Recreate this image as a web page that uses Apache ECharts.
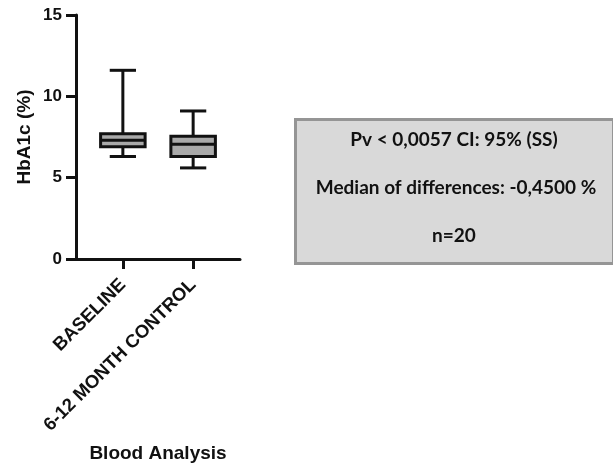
<!DOCTYPE html>
<html>
<head>
<meta charset="utf-8">
<script src="https://cdn.jsdelivr.net/npm/echarts@6/dist/echarts.min.js"></script>
<style>
  html, body { margin: 0; padding: 0; background: #fff; }
  #chart { width: 613px; height: 468px; }
</style>
</head>
<body>
<div id="chart"></div>
<script>
// categories and their slot on the x scale (0..7)
var categories = ['BASELINE', '6-12 MONTH CONTROL'];
var slots = [2, 5];

// box plot values (HbA1c %)
var mins    = [6.3, 5.6];
var q1s     = [6.9, 6.3];
var medians = [7.3, 7.05];
var q3s     = [7.7, 7.55];
var maxs    = [11.6, 9.1];

var yTicks = [0, 5, 10, 15];

var statLines = [
    'Pv < 0,0057 CI: 95% (SS)',
    'Median of differences: -0,4500 %',
    'n=20'
];

var boxData = [];
for (var i = 0; i < categories.length; i++) {
    boxData.push([slots[i], mins[i], q1s[i], medians[i], q3s[i], maxs[i]]);
}

function renderBox(params, api) {
    var x = api.value(0);
    var pMin = api.coord([x, api.value(1)]);
    var pQ1 = api.coord([x, api.value(2)]);
    var pMed = api.coord([x, api.value(3)]);
    var pQ3 = api.coord([x, api.value(4)]);
    var pMax = api.coord([x, api.value(5)]);
    var unit = api.size([1, 0])[0];
    var boxW = unit * 1.9;
    var capW = unit * 1.12;
    var cx = pMed[0];
    var lineStyle = {stroke: '#111', lineWidth: 3};
    return {
        type: 'group',
        children: [
            {type: 'line', shape: {x1: cx, y1: pMax[1], x2: cx, y2: pQ3[1]}, style: lineStyle},
            {type: 'line', shape: {x1: cx, y1: pQ1[1], x2: cx, y2: pMin[1]}, style: lineStyle},
            {type: 'line', shape: {x1: cx - capW / 2, y1: pMax[1], x2: cx + capW / 2, y2: pMax[1]}, style: lineStyle},
            {type: 'line', shape: {x1: cx - capW / 2, y1: pMin[1], x2: cx + capW / 2, y2: pMin[1]}, style: lineStyle},
            {type: 'rect', shape: {x: cx - boxW / 2, y: pQ3[1], width: boxW, height: pQ1[1] - pQ3[1]},
                style: {fill: '#a9a9a9', stroke: '#111', lineWidth: 3}},
            {type: 'line', shape: {x1: cx - boxW / 2, y1: pMed[1], x2: cx + boxW / 2, y2: pMed[1]}, style: lineStyle}
        ]
    };
}

var textFont = 'Liberation Sans, Arial, sans-serif';
var statFont = 'bold 19px Lato, sans-serif';
var myChart = echarts.init(document.getElementById('chart'), null, {renderer: 'canvas'});
var option = {
    animation: false,
    backgroundColor: '#fff',
    grid: {left: 76, top: 15, width: 164, bottom: 207, containLabel: false},
    xAxis: {
        type: 'value',
        min: 0,
        max: 7,
        name: 'Blood Analysis',
        nameLocation: 'middle',
        nameGap: 185,
        nameTextStyle: {fontFamily: textFont, fontWeight: 'bold', fontSize: 19, color: '#111'},
        splitLine: {show: false},
        axisLine: {onZero: false, lineStyle: {color: '#111', width: 3}},
        axisTick: {show: true, length: 10, customValues: slots, lineStyle: {color: '#111', width: 3}},
        axisLabel: {
            customValues: slots,
            rotate: 45,
            margin: 23,
            fontFamily: textFont,
            fontWeight: 'bold',
            fontSize: 18.5,
            color: '#111',
            formatter: function (v) {
                var idx = slots.indexOf(v);
                return idx >= 0 ? categories[idx] : '';
            }
        }
    },
    yAxis: {
        type: 'value',
        min: yTicks[0],
        max: yTicks[yTicks.length - 1],
        interval: 5,
        name: 'HbA1c (%)',
        nameLocation: 'middle',
        nameGap: 42,
        nameTextStyle: {fontFamily: textFont, fontWeight: 'bold', fontSize: 19, color: '#111'},
        splitLine: {show: false},
        axisLine: {show: true, lineStyle: {color: '#111', width: 3}},
        axisTick: {show: true, length: 10, lineStyle: {color: '#111', width: 3}},
        axisLabel: {margin: 14, fontFamily: textFont, fontWeight: 'bold', fontSize: 17, color: '#111'}
    },
    graphic: [
        {
            type: 'rect',
            left: 294,
            top: 118,
            shape: {width: 318, height: 144},
            style: {fill: '#d9d9d9', stroke: '#959595', lineWidth: 3}
        },
        {type: 'text', x: 454, y: 140, style: {text: statLines[0], align: 'center', verticalAlign: 'middle', font: statFont, fill: '#111'}},
        {type: 'text', x: 456, y: 188, style: {text: statLines[1], align: 'center', verticalAlign: 'middle', font: statFont, fill: '#111'}},
        {type: 'text', x: 454, y: 236, style: {text: statLines[2], align: 'center', verticalAlign: 'middle', font: statFont, fill: '#111'}}
    ],
    series: [{
        type: 'custom',
        renderItem: renderBox,
        encode: {x: 0, y: [1, 2, 3, 4, 5]},
        data: boxData
    }]
};
myChart.setOption(option);
</script>
</body>
</html>
